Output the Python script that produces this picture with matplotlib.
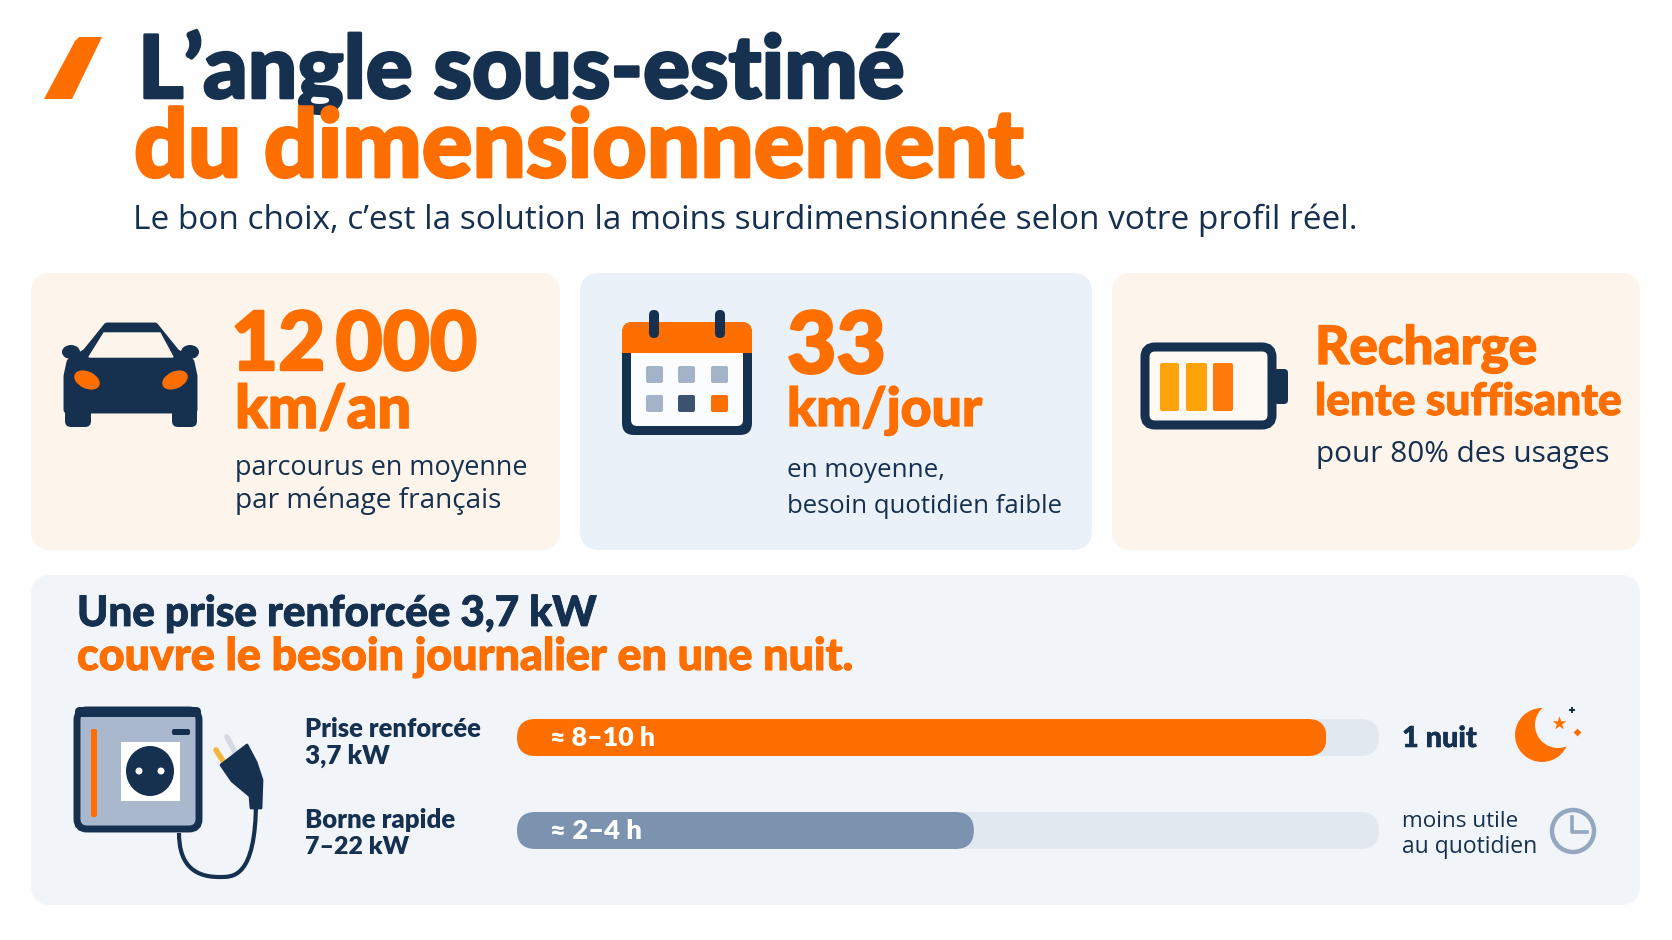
import matplotlib
matplotlib.use("Agg")
import matplotlib.pyplot as plt
import matplotlib.patheffects as pe
from matplotlib.patches import FancyBboxPatch, Polygon, Circle, Ellipse, PathPatch
from matplotlib.path import Path

NAVY = "#16304F"; ORANGE = "#FF6F00"; PEACH = "#FDF4EC"; BLUE = "#EAF1F8"
PANEL = "#F1F5FA"; TRACK = "#E2E8F0"; SLATE = "#7C93AF"

# ---- data ----
title_lines = ["L’angle sous-estimé", "du dimensionnement"]
subtitle = "Le bon choix, c’est la solution la moins surdimensionnée selon votre profil réel."
stat_values = ["12\u2009000", "33"]
stat_units = ["km/an", "km/jour"]
categories = ["Prise renforcée\n3,7 kW", "Borne rapide\n7–22 kW"]
duration_labels = ["≈ 8–10 h", "≈ 2–4 h"]
fill_share = [93.9, 53.0]      # filled share of each gauge, in %
gauge_max = 100

W, H = 1672, 940
fig = plt.figure(figsize=(W / 100, H / 100), dpi=100, facecolor="#FEFEFE")
ax = fig.add_axes([0, 0, 1, 1], zorder=0)
ax.set_xlim(0, W); ax.set_ylim(H, 0); ax.axis("off")
top = fig.add_axes([0, 0, 1, 1], zorder=2)
top.set_xlim(0, W); top.set_ylim(H, 0); top.axis("off")
rend = fig.canvas.get_renderer()

HEAVY = dict(family="Lato", weight=900)
BOLD = dict(family="Lato", weight=800)
REG = dict(family="Open Sans", weight=400)


def fit(s, x0, x1, base, color=NAVY, style=REG, z=5, on=None, stroke=0.0):
    """Text set on a baseline, sized so that it spans x0..x1."""
    t = (on or ax).text(x0, base, s, color=color, va="baseline", ha="left", fontsize=20, zorder=z, **style)
    w = t.get_window_extent(rend).width
    fs = 20 * (x1 - x0) / w
    t.set_fontsize(fs)
    if stroke:
        t.set_path_effects([pe.withStroke(linewidth=fs * stroke, foreground=color)])
    return t


def card(x0, x1, y0, y1, c, r=20):
    ax.add_patch(FancyBboxPatch((x0, y0), x1 - x0, y1 - y0, boxstyle=f"round,pad=0,rounding_size={r}",
                                fc=c, ec="none", zorder=1))


def rbox(x0, y0, x1, y1, fc, ec="none", lw=0, r=3, z=3):
    ax.add_patch(FancyBboxPatch((x0, y0), x1 - x0, y1 - y0, boxstyle=f"round,pad=0,rounding_size={r}",
                                fc=fc, ec=ec, lw=lw, zorder=z))


# ---- cards ----
card(31, 560, 273, 550, PEACH)
card(580, 1092, 273, 550, BLUE)
card(1112, 1640, 273, 550, PEACH)
card(31, 1640, 575, 905, PANEL)

# ---- header ----
ax.add_patch(Polygon([(79, 37), (102, 37), (72, 99), (44, 99), (75, 41)], fc=ORANGE, ec="none", zorder=3))
fit(title_lines[0], 138, 906, 98, NAVY, HEAVY, stroke=0.03)
fit(title_lines[1], 134, 1026, 177, ORANGE, HEAVY, stroke=0.03)
fit(subtitle, 133, 1352, 229, NAVY, REG)

# ---- stat texts ----
fit(stat_values[0], 231, 477, 370, ORANGE, HEAVY, stroke=0.03)
fit(stat_units[0], 235, 412, 428, ORANGE, HEAVY, stroke=0.025)
fit("parcourus en moyenne", 235, 527, 475)
fit("par ménage français", 235, 502, 508)
fit(stat_values[1], 787, 886, 373, ORANGE, HEAVY, stroke=0.03)
fit(stat_units[1], 787, 983, 426, ORANGE, HEAVY, stroke=0.025)
fit("en moyenne,", 787, 944, 477)
fit("besoin quotidien faible", 787, 1062, 513)
fit("Recharge", 1315, 1537, 364, ORANGE, HEAVY, stroke=0.025)
fit("lente suffisante", 1315, 1622, 415, ORANGE, HEAVY, stroke=0.025)
fit("pour 80% des usages", 1316, 1609, 462)

# ---- car icon ----
ax.add_patch(Polygon([(107, 326), (155, 326), (176, 352), (191, 362), (194, 376), (194, 410), (67, 410),
                      (67, 376), (70, 362), (86, 352)],
                     fc=NAVY, ec=NAVY, lw=5, joinstyle="round", zorder=3))
for cx in (71, 190):
    ax.add_patch(Ellipse((cx, 352), 18, 14, fc=NAVY, ec="none", zorder=3))
rbox(65, 400, 91, 427, NAVY, r=6)
rbox(172, 400, 197, 427, NAVY, r=6)
ax.add_patch(Polygon([(89, 357), (173, 357), (160, 333), (104, 333)], fc=PEACH, ec=PEACH, lw=1, zorder=4))
ax.add_patch(Ellipse((87, 380), 27, 17, angle=25, fc=ORANGE, ec="none", zorder=4))
ax.add_patch(Ellipse((175, 380), 27, 17, angle=-25, fc=ORANGE, ec="none", zorder=4))

# ---- calendar icon ----
rbox(622, 322, 752, 435, NAVY, r=12)
rbox(631, 345, 743, 426, "#FBFCFE", r=6, z=4)
rbox(622, 322, 752, 353, ORANGE, r=10, z=5)
ax.add_patch(plt.Rectangle((622, 340), 130, 13, fc=ORANGE, ec="none", zorder=5))
for cx in (654, 720):
    rbox(cx - 5, 310, cx + 5, 338, NAVY, r=5, z=6)
cell_cols = {(0, 0): "#A3B4C8", (1, 0): "#A3B4C8", (2, 0): "#A3B4C8",
             (0, 1): "#A3B4C8", (1, 1): "#3D5270", (2, 1): ORANGE}
for (c, r), col in cell_cols.items():
    x = [646, 678, 711][c]; y = [366, 395][r]
    rbox(x, y, x + 17, y + 17, col, r=2, z=5)

# ---- battery icon ----
rbox(1145, 347, 1272, 425, "#FFF9F4", ec=NAVY, lw=6.5, r=10)
rbox(1274, 369, 1288, 404, NAVY, r=4, z=2)
for x0, x1, col in [(1160, 1179, "#FFA30A"), (1186, 1207, "#FFA30A"), (1213, 1233, "#FF7A0A")]:
    rbox(x0, 363, x1, 411, col, r=2, z=4)

# ---- panel heading ----
fit("Une prise renforcée 3,7 kW", 77, 597, 626, NAVY, HEAVY, stroke=0.02)
fit("couvre le besoin journalier en une nuit.", 77, 855, 670, ORANGE, HEAVY, stroke=0.025)

# ---- socket icon ----
rbox(77, 710, 199, 829, "#A9B8CC", ec=NAVY, lw=5, r=10)
rbox(75, 707, 201, 717, NAVY, r=5)
rbox(91, 729, 97, 817, ORANGE, r=2, z=4)
rbox(172, 729, 190, 735, NAVY, r=2, z=4)
ax.add_patch(plt.Rectangle((121, 742), 59, 59, fc="white", ec="none", zorder=4))
ax.add_patch(Ellipse((150, 771), 48, 50, fc=NAVY, ec="none", zorder=5))
for cx in (139, 161):
    ax.add_patch(Circle((cx, 771), 3.5, fc="white", ec="none", zorder=6))
# cable
ax.add_patch(PathPatch(Path([(256, 800), (256, 880), (232, 877), (219, 877), (190, 877), (179, 860), (179, 833)],
                            [Path.MOVETO, Path.CURVE4, Path.CURVE4, Path.CURVE4, Path.CURVE4, Path.CURVE4, Path.CURVE4]),
                       fc="none", ec=NAVY, lw=3, zorder=3))
# plug
ax.add_patch(Polygon([(247, 745), (221, 765), (232, 781), (250, 796), (251, 808), (261, 808), (262, 780), (256, 762)],
                     fc=NAVY, ec=NAVY, lw=2, joinstyle="round", zorder=4))
ax.plot([227, 235], [737, 752], color="#D5DAE2", lw=4, solid_capstyle="round", zorder=3)
ax.plot([216, 223], [750, 761], color="#F5B63F", lw=4, solid_capstyle="round", zorder=3)

# ---- gauges: a child axes placed over the track span, on its own scale ----
gx = fig.add_axes([517 / W, 1 - 849 / H, (1379 - 517) / W, (849 - 719) / H], zorder=1)
gx.set_xlim(0, gauge_max); gx.set_ylim(130, 0); gx.axis("off")
rows = [18.5, 111.5]
bar_h = 37


def round_clip(bar):
    (x0, y0), (x1, y1) = gx.transData.transform([(bar.get_x(), bar.get_y()),
                                                 (bar.get_x() + bar.get_width(), bar.get_y() + bar.get_height())])
    low, high = min(y0, y1), max(y0, y1)
    clip = FancyBboxPatch((x0, low), x1 - x0, high - low, boxstyle=f"round,pad=0,rounding_size={(high - low) / 2}",
                          transform=None)
    bar.set_clip_path(clip.get_path(), clip.get_transform())


for y, v, col in zip(rows, fill_share, [ORANGE, SLATE]):
    track = gx.barh(y, gauge_max, height=bar_h, color=TRACK, zorder=1)[0]
    fill = gx.barh(y, v, height=bar_h, color=col, zorder=2)[0]
    round_clip(track); round_clip(fill)

fit(duration_labels[0], 550, 655, 746, "white", BOLD, z=8, on=top)
fit(duration_labels[1], 550, 642, 839, "white", BOLD, z=8, on=top)
a, b = categories[0].split("\n")
fit(a, 305, 481, 737, NAVY, BOLD); fit(b, 305, 390, 764, NAVY, BOLD)
a, b = categories[1].split("\n")
fit(a, 305, 455, 828, NAVY, BOLD); fit(b, 305, 409, 854, NAVY, BOLD)

fit("1 nuit", 1402, 1477, 747, NAVY, HEAVY, stroke=0.02)
fit("moins utile", 1402, 1518, 827)
fit("au quotidien", 1402, 1537, 853)

# ---- moon ----
ax.add_patch(Circle((1542, 735), 27, fc=ORANGE, ec="none", zorder=3))
ax.add_patch(Circle((1558, 725), 23, fc=PANEL, ec="none", zorder=4))
ax.scatter([1559], [723], marker="*", s=110, c=ORANGE, linewidths=0, zorder=5)
ax.scatter([1572], [710], marker="P", s=22, c=NAVY, linewidths=0, zorder=5)
ax.scatter([1577], [732], marker="D", s=16, c=ORANGE, linewidths=0, zorder=5)

# ---- clock ----
ax.add_patch(Circle((1573, 831), 21, fc="none", ec="#94A7BE", lw=3.2, zorder=3))
ax.plot([1572, 1572, 1587], [817, 832, 832], color="#94A7BE", lw=2.6, solid_joinstyle="round", zorder=3)

fig.savefig("out.png", dpi=100, facecolor=fig.get_facecolor())
